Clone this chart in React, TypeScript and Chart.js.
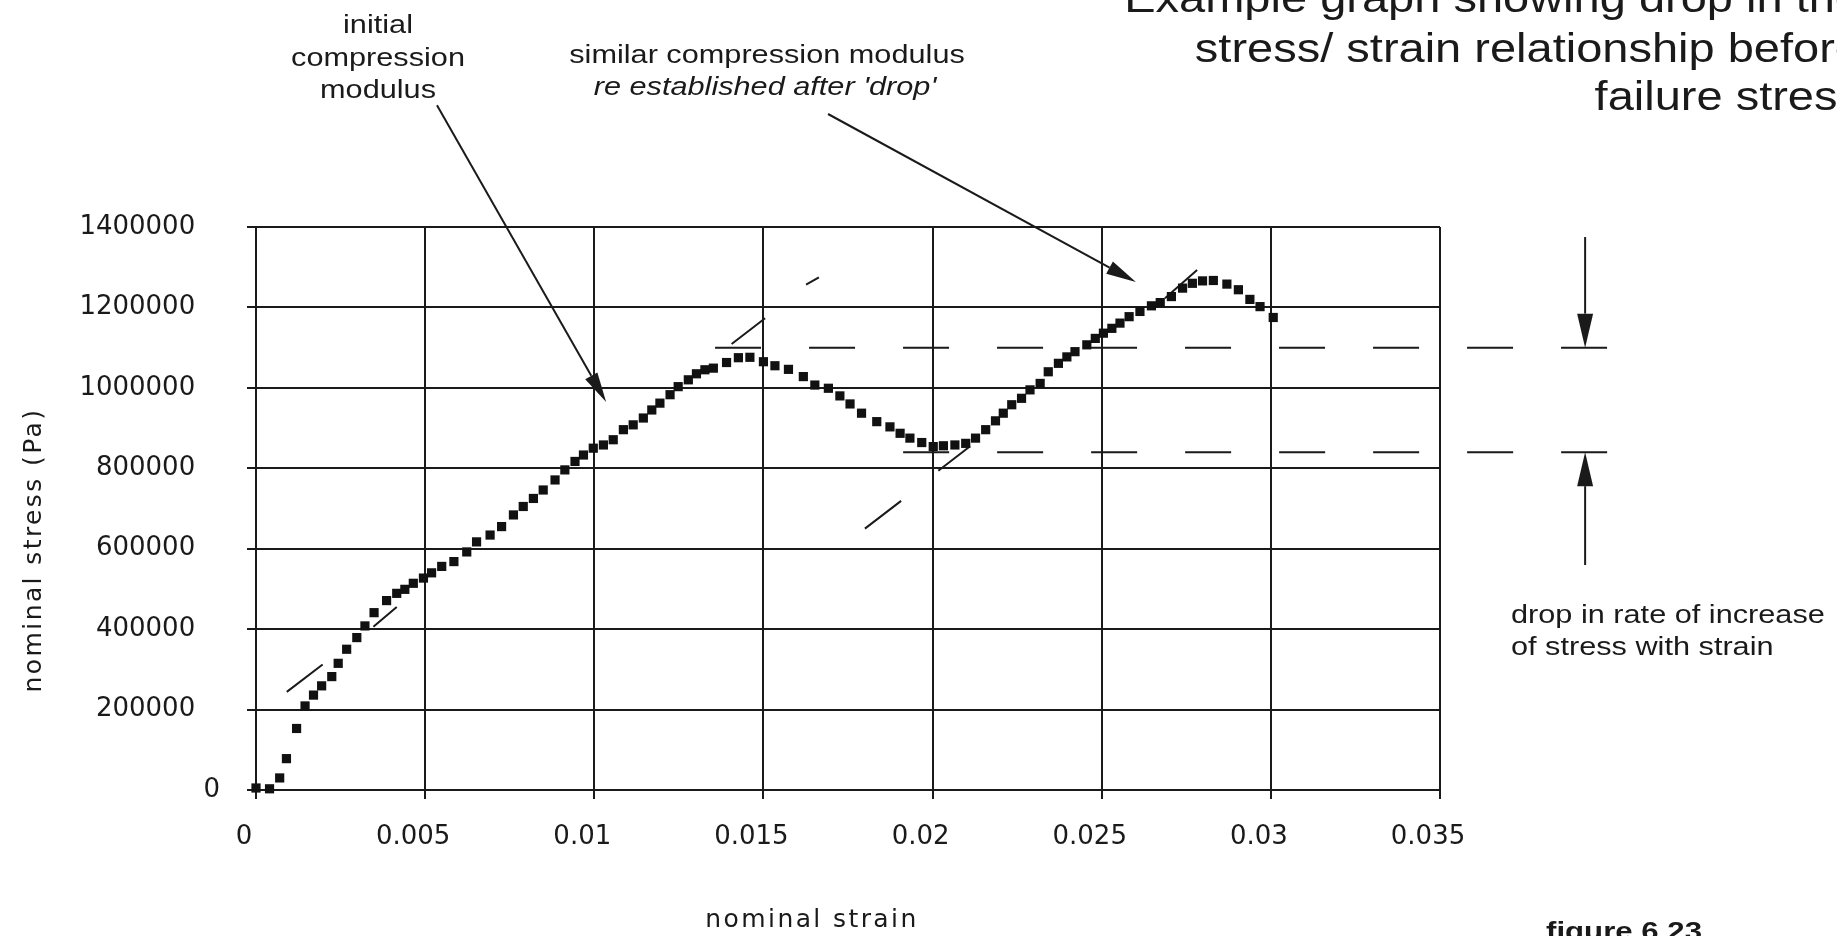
import React, { useEffect, useRef } from 'react';
import { Chart, registerables } from 'chart.js';

Chart.register(...registerables);

// ---- data ----
const STRAIN = [
  0.0, 0.0004, 0.0007, 0.0009, 0.0012, 0.00145, 0.0017, 0.00194, 0.00224, 0.00243,
  0.00268, 0.00298, 0.00322, 0.00349, 0.00386, 0.00416, 0.0044, 0.00465, 0.00495, 0.00519,
  0.00549, 0.00585, 0.00623, 0.00652, 0.00692, 0.00726, 0.00761, 0.0079, 0.0082, 0.00849,
  0.00884, 0.00913, 0.00943, 0.00968, 0.00997, 0.01027, 0.01056, 0.01086, 0.01115, 0.01145,
  0.0117, 0.01194, 0.01224, 0.01248, 0.01278, 0.01302, 0.01327, 0.01352, 0.01391, 0.01426,
  0.0146, 0.015, 0.01534, 0.01574, 0.01618, 0.01652, 0.01692, 0.01726, 0.01756, 0.0179,
  0.01835, 0.01874, 0.01904, 0.01933, 0.01968, 0.02002, 0.02032, 0.02066, 0.02098, 0.02127,
  0.02157, 0.02186, 0.02209, 0.02234, 0.02263, 0.02288, 0.02318, 0.02342, 0.02372, 0.02397,
  0.02421, 0.02456, 0.02481, 0.02505, 0.0253, 0.02554, 0.02581, 0.02613, 0.02647, 0.02673,
  0.02706, 0.02739, 0.02768, 0.02798, 0.0283, 0.0287, 0.02904, 0.02938, 0.02968, 0.03007,
];
const STRESS = [
  5000, 3000, 30000, 78000, 153000, 209000, 236000, 259000, 282000, 315000,
  350000, 379000, 408000, 441000, 471000, 489000, 499000, 514000, 527000, 540000,
  556000, 568000, 592000, 617000, 634000, 655000, 684000, 705000, 725000, 746000,
  771000, 796000, 817000, 833000, 850000, 858000, 871000, 896000, 908000, 925000,
  945000, 962000, 983000, 1003000, 1020000, 1035000, 1045000, 1049000, 1063000, 1075000,
  1076000, 1065000, 1055000, 1046000, 1028000, 1007000, 999000, 980000, 960000, 937000,
  916000, 903000, 887000, 875000, 864000, 854000, 856000, 858000, 862000, 875000,
  896000, 918000, 937000, 958000, 974000, 995000, 1011000, 1040000, 1061000, 1077000,
  1090000, 1107000, 1123000, 1136000, 1148000, 1161000, 1177000, 1190000, 1204000, 1212000,
  1227000, 1248000, 1260000, 1266000, 1267000, 1258000, 1244000, 1220000, 1202000, 1175000,
];

// tangent (modulus) line pieces, consecutive pairs are the ends of each visible piece
const INITIAL_MODULUS_X = [0.00091, 0.00197, 0.00347, 0.00416, 0.01406, 0.01505, 0.01626, 0.01664];
const INITIAL_MODULUS_Y = [244000, 312000, 406000, 455000, 1109000, 1173000, 1257000, 1275000];
const RE_MODULUS_X = [0.018, 0.01907, 0.02017, 0.02111, 0.02687, 0.02782];
const RE_MODULUS_Y = [650000, 719000, 794000, 855000, 1223000, 1293000];

// dashed reference levels
const DROP_LEVELS = [1100000, 840000];
const DROP_LEVEL_START = [0.01357, 0.01913];
const DROP_LEVEL_END = 0.04;

const X_TICK_LABELS = ['0', '0.005', '0.01', '0.015', '0.02', '0.025', '0.03', '0.035'];
const Y_TICK_LABELS = ['0', '200000', '400000', '600000', '800000', '1000000', '1200000', '1400000'];

const X_TITLE = 'nominal strain';
const Y_TITLE = 'nominal stress (Pa)';
const TITLE_LINES = ['Example graph showing drop in the', 'stress/ strain relationship before', 'failure stress'];
const NOTE_INITIAL = ['initial', 'compression', 'modulus'];
const NOTE_SIMILAR = ['similar compression modulus', "re established after 'drop'"];
const NOTE_DROP = ['drop in rate of increase', 'of stress with strain'];
const FIGURE_LABEL = 'figure 6.23';

// annotation arrows in data units: [fromX, fromY, toX, toY]
const ARROWS = [
  [0.00535, 1703000, 0.01035, 965000],
  [0.01691, 1681000, 0.02601, 1263000],
  [0.03929, 1375000, 0.03929, 1100000],
  [0.03929, 559500, 0.03929, 840000],
];

const INK = '#1a1a1a';
const TICK_FONT = 'DejaVu Sans';
const NOTE_FONT = '"Liberation Sans", Arial, Helvetica, sans-serif';

function pairsWithGaps(xs: number[], ys: number[]) {
  const out: { x: number; y: number | null }[] = [];
  for (let i = 0; i + 1 < xs.length; i += 2) {
    if (i > 0) out.push({ x: (xs[i - 1] + xs[i]) / 2, y: null });
    out.push({ x: xs[i], y: ys[i] });
    out.push({ x: xs[i + 1], y: ys[i + 1] });
  }
  return out;
}

function stretchedText(
  ctx: CanvasRenderingContext2D,
  text: string,
  x: number,
  y: number,
  font: string,
  align: CanvasTextAlign,
  sx: number
) {
  ctx.save();
  ctx.font = font;
  ctx.textAlign = align;
  ctx.textBaseline = 'alphabetic';
  ctx.translate(x, y);
  ctx.scale(sx, 1);
  ctx.fillText(text, 0, 0);
  ctx.restore();
}

function arrow(ctx: CanvasRenderingContext2D, x1: number, y1: number, x2: number, y2: number, len: number, half: number) {
  const a = Math.atan2(y2 - y1, x2 - x1);
  const bx = x2 - len * Math.cos(a);
  const by = y2 - len * Math.sin(a);
  ctx.beginPath();
  ctx.moveTo(x1, y1);
  ctx.lineTo(bx, by);
  ctx.stroke();
  ctx.beginPath();
  ctx.moveTo(x2, y2);
  ctx.lineTo(bx + half * Math.sin(a), by - half * Math.cos(a));
  ctx.lineTo(bx - half * Math.sin(a), by + half * Math.cos(a));
  ctx.closePath();
  ctx.fill();
}

const annotationPlugin = {
  id: 'figureAnnotations',
  afterDraw(chart: any) {
    const { ctx } = chart;
    const xs = chart.scales.x;
    const ys = chart.scales.y;
    ctx.save();
    ctx.fillStyle = INK;
    ctx.strokeStyle = INK;
    ctx.lineWidth = 2;

    // title (right aligned, runs off the page edge like the scan)
    const titleBase = [12, 62, 110];
    TITLE_LINES.forEach((t, i) => stretchedText(ctx, t, 1861, titleBase[i], `40px ${NOTE_FONT}`, 'right', 1.175));

    const initBase = [33, 66, 98];
    NOTE_INITIAL.forEach((t, i) => stretchedText(ctx, t, 378, initBase[i], `26px ${NOTE_FONT}`, 'center', 1.18));
    stretchedText(ctx, NOTE_SIMILAR[0], 767, 63, `26px ${NOTE_FONT}`, 'center', 1.18);
    stretchedText(ctx, NOTE_SIMILAR[1], 765, 95, `italic 26px ${NOTE_FONT}`, 'center', 1.18);
    stretchedText(ctx, NOTE_DROP[0], 1511, 623, `26px ${NOTE_FONT}`, 'left', 1.18);
    stretchedText(ctx, NOTE_DROP[1], 1511, 655, `26px ${NOTE_FONT}`, 'left', 1.18);
    stretchedText(ctx, FIGURE_LABEL, 1546, 940, `bold 26px ${NOTE_FONT}`, 'left', 1.2);

    // axis titles
    ctx.save();
    ctx.font = `25px "${TICK_FONT}"`;
    (ctx as any).letterSpacing = '2.4px';
    ctx.textAlign = 'center';
    ctx.textBaseline = 'alphabetic';
    ctx.fillText(X_TITLE, 812, 927);
    ctx.translate(41, 550);
    ctx.rotate(-Math.PI / 2);
    ctx.fillText(Y_TITLE, 0, 0);
    ctx.restore();

    // arrows
    ARROWS.forEach(([fx, fy, tx, ty], i) => {
      const vertical = i >= 2;
      arrow(
        ctx,
        xs.getPixelForValue(fx),
        ys.getPixelForValue(fy),
        xs.getPixelForValue(tx),
        ys.getPixelForValue(ty),
        vertical ? 34 : 30,
        vertical ? 8 : 7
      );
    });
    ctx.restore();
  },
};

export default function App() {
  const canvasRef = useRef<HTMLCanvasElement | null>(null);

  useEffect(() => {
    if (!canvasRef.current) return;
    const points = STRAIN.map((x, i) => ({ x, y: STRESS[i] }));
    const datasets: any[] = [
      {
        label: 'stress',
        data: points,
        showLine: false,
        pointStyle: 'rect',
        pointRadius: 6.5,
        pointHoverRadius: 6.5,
        backgroundColor: '#111',
        borderColor: '#111',
        borderWidth: 0,
        clip: false,
      },
      {
        label: 'initial modulus',
        data: pairsWithGaps(INITIAL_MODULUS_X, INITIAL_MODULUS_Y),
        showLine: true,
        spanGaps: false,
        pointRadius: 0,
        borderColor: INK,
        borderWidth: 2,
      },
      {
        label: 're-established modulus',
        data: pairsWithGaps(RE_MODULUS_X, RE_MODULUS_Y),
        showLine: true,
        spanGaps: false,
        pointRadius: 0,
        borderColor: INK,
        borderWidth: 2,
      },
      ...DROP_LEVELS.map((lvl, i) => ({
        label: `level ${i}`,
        data: [
          { x: DROP_LEVEL_START[i], y: lvl },
          { x: DROP_LEVEL_END, y: lvl },
        ],
        showLine: true,
        pointRadius: 0,
        borderColor: INK,
        borderWidth: 2,
        borderDash: [46, 48],
        clip: false,
      })),
    ];

    const chart = new Chart(canvasRef.current, {
      type: 'scatter',
      data: { datasets },
      options: {
        animation: false,
        responsive: true,
        maintainAspectRatio: false,
        layout: { padding: { left: 0, top: 227, right: 397, bottom: 0 } },
        plugins: {
          legend: { display: false },
          tooltip: { enabled: false },
          title: { display: false },
        },
        scales: {
          x: {
            type: 'linear',
            min: 0,
            max: 0.035,
            afterFit: (scale: any) => {
              scale.height = 146;
            },
            ticks: {
              stepSize: 0.005,
              padding: 23,
              labelOffset: -12,
              color: INK,
              font: { family: TICK_FONT, size: 26 },
              maxRotation: 0,
              autoSkip: false,
              callback: (v: any) => X_TICK_LABELS.find((t) => Math.abs(Number(t) - Number(v)) < 1e-9) ?? '',
            },
            grid: { color: INK, lineWidth: 2, drawTicks: true, tickLength: 9 },
            border: { display: true, color: INK, width: 2 },
          },
          y: {
            type: 'linear',
            min: 0,
            max: 1400000,
            afterFit: (scale: any) => {
              scale.width = 256;
            },
            ticks: {
              stepSize: 200000,
              padding: 27,
              color: INK,
              font: { family: TICK_FONT, size: 26 },
              autoSkip: false,
              callback: (v: any) => {
                const s = Y_TICK_LABELS.find((t) => Number(t) === Number(v)) ?? '';
                return s === '0' ? s : s + '\u2007 ';
              },
            },
            grid: { color: INK, lineWidth: 2, drawTicks: true, tickLength: 9 },
            border: { display: true, color: INK, width: 2 },
          },
        },
      },
      plugins: [annotationPlugin],
    } as any);

    return () => chart.destroy();
  }, []);

  return (
    <div style={{ position: 'absolute', left: 0, top: 0, width: 1837, height: 936, background: '#fff' }}>
      <canvas ref={canvasRef} />
    </div>
  );
}
